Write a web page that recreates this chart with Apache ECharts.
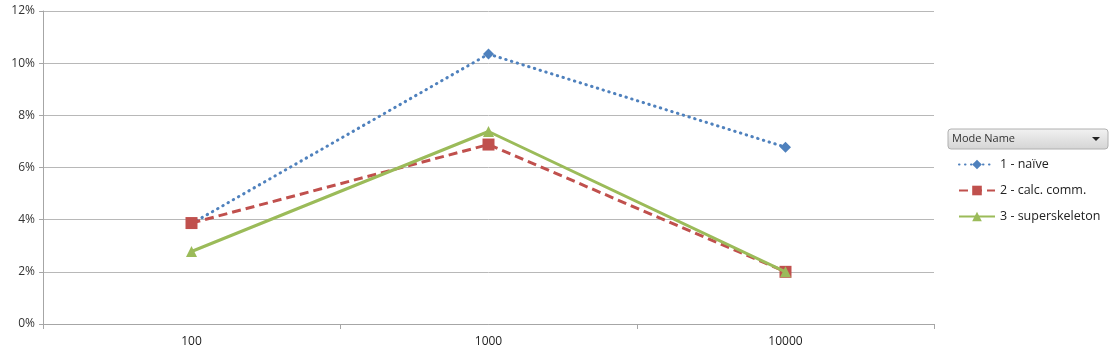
<!DOCTYPE html>
<html>
<head>
<meta charset="utf-8">
<script src="https://cdn.jsdelivr.net/npm/echarts@6/dist/echarts.min.js"></script>
<style>
  html, body { margin: 0; padding: 0; background: #fff; }
</style>
</head>
<body>
<div id="myEcharts" style="width: 1111px; height: 355px;"></div>
<script>
// data
const categories = ['100', '1000', '10000'];
const naive = [3.85, 10.35, 6.78];
const calcComm = [3.87, 6.88, 2.0];
const superskeleton = [2.78, 7.38, 2.0];
const seriesNames = ['1 - naïve', '2 - calc. comm.', '3 - superskeleton'];

const font = '"Open Sans", "DejaVu Sans", sans-serif';

const chart = echarts.init(document.getElementById('myEcharts'));

chart.setOption({
    animation: false,
    textStyle: { fontFamily: font },
    grid: { left: 43, right: 177, top: 11, bottom: 31, containLabel: false },
    xAxis: {
        type: 'category',
        data: categories,
        boundaryGap: true,
        axisLine: { lineStyle: { color: '#a6a6a6', width: 1 } },
        axisTick: { show: true, alignWithLabel: false, length: 5, lineStyle: { color: '#a6a6a6' } },
        axisLabel: { color: '#222', fontSize: 12, margin: 12, fontFamily: font }
    },
    yAxis: {
        type: 'value',
        min: 0,
        max: 12,
        interval: 2,
        axisLine: { show: true, lineStyle: { color: '#a6a6a6' } },
        axisTick: { show: true, length: 4, lineStyle: { color: '#a6a6a6' } },
        splitLine: { lineStyle: { color: '#b8b8b8', width: 1 } },
        axisLabel: { color: '#333', fontSize: 12, margin: 8, formatter: '{value}%', fontFamily: font }
    },
    legend: {
        orient: 'vertical',
        left: 953,
        top: 153,
        itemWidth: 36,
        itemHeight: 12,
        itemGap: 13,
        data: seriesNames,
        textStyle: { color: '#222', fontSize: 12.5, fontFamily: font }
    },
    graphic: [
        {
            type: 'rect',
            shape: { x: 948, y: 129, width: 160, height: 20, r: 3 },
            style: {
                fill: new echarts.graphic.LinearGradient(0, 0, 0, 1, [
                    { offset: 0, color: '#f2f2f2' },
                    { offset: 1, color: '#d4d4d4' }
                ]),
                stroke: '#b0b0b0',
                lineWidth: 1
            }
        },
        {
            type: 'text',
            x: 952,
            y: 133,
            style: { text: 'Mode Name', fill: '#333', font: '11px ' + font }
        },
        {
            type: 'polygon',
            shape: { points: [[1092, 137], [1100, 137], [1096, 141]] },
            style: { fill: '#222' }
        }
    ],
    series: [
        {
            name: seriesNames[0],
            type: 'line',
            data: naive,
            symbol: 'diamond',
            symbolSize: 11,
            itemStyle: { color: '#4f81bd' },
            lineStyle: { color: '#4f81bd', width: 3, type: [0.5, 5.5], cap: 'round' },
            z: 2
        },
        {
            name: seriesNames[1],
            type: 'line',
            data: calcComm,
            symbol: 'rect',
            symbolSize: 12,
            itemStyle: { color: '#c0504d' },
            lineStyle: { color: '#c0504d', width: 3, type: [9, 5] },
            z: 3
        },
        {
            name: seriesNames[2],
            type: 'line',
            data: superskeleton,
            symbol: 'triangle',
            symbolSize: 11,
            itemStyle: { color: '#9bbb59' },
            lineStyle: { color: '#9bbb59', width: 3 },
            z: 4
        }
    ]
});
</script>
</body>
</html>
